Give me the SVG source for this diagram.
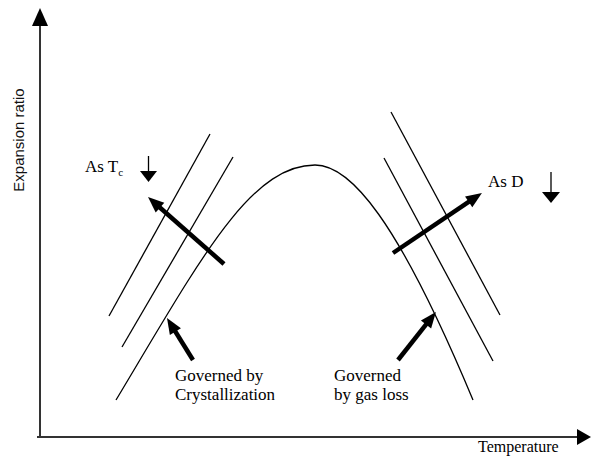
<svg xmlns="http://www.w3.org/2000/svg" width="592" height="457" viewBox="0 0 592 457">
<style>
.t{font-family:"Liberation Serif","Times New Roman",serif;font-size:17px;fill:#000}
.s{font-family:"Liberation Sans",Arial,sans-serif;font-size:15px;fill:#111}
.ln{fill:none;stroke:#000;stroke-width:1.3}
.ax{fill:none;stroke:#333;stroke-width:2}
.big{fill:none;stroke:#000;stroke-width:4.5}
</style>
<defs>
<marker id="ah" markerUnits="userSpaceOnUse" markerWidth="20" markerHeight="16" viewBox="0 -8 18 16" refX="4" refY="0" orient="auto">
<path d="M0,-6.5 L16,0 L0,6.5 z" fill="#000"/>
</marker>
</defs>
<g id="axes">
<line class="ax" x1="40" y1="437" x2="40" y2="24"/>
<polygon points="40,8 32,26 48,26" fill="#000"/>
<line class="ax" x1="37" y1="437" x2="580" y2="437"/>
<polygon points="591,437 577,429 577,445" fill="#000"/>
<text class="s" transform="translate(24,140) rotate(-90)" text-anchor="middle">Expansion ratio</text>
<text class="t" x="478" y="452" style="font-size:16px">Temperature</text>
</g>
<g id="curve">
<path class="ln" d="M116,400 C200,260 250,165 315,165 C350,165 397,218 473,400"/>
</g>
<g id="lines-left">
<line class="ln" x1="210" y1="134" x2="109" y2="316"/>
<line class="ln" x1="233" y1="157" x2="122" y2="347"/>
</g>
<g id="lines-right">
<line class="ln" x1="391" y1="112" x2="500" y2="315"/>
<line class="ln" x1="384" y1="158" x2="493" y2="361"/>
</g>
<g id="connectors">
<line class="big" x1="224" y1="264" x2="157" y2="205" marker-end="url(#ah)"/>
<line class="big" x1="393" y1="253" x2="472" y2="199.7" marker-end="url(#ah)"/>
<line class="big" x1="193" y1="360" x2="173.3" y2="328.2" marker-end="url(#ah)"/>
<line class="big" x1="398" y1="360" x2="428.5" y2="321.4" marker-end="url(#ah)"/>
</g>
<g id="label-tc">
<text class="t" x="85" y="172">As T<tspan dy="4" style="font-size:11px">c</tspan></text>
<line x1="148.5" y1="156" x2="148.5" y2="172" stroke="#000" stroke-width="1.3"/>
<polygon points="140,171 157,171 148.5,182" fill="#000"/>
</g>
<g id="label-d">
<text class="t" x="488" y="187">As D</text>
<line x1="551" y1="172" x2="551" y2="193" stroke="#000" stroke-width="1.3"/>
<polygon points="542,192 560,192 551,203" fill="#000"/>
</g>
<g id="label-cryst">
<text class="t" x="175" y="381">Governed by</text>
<text class="t" x="175" y="400">Crystallization</text>
</g>
<g id="label-gas">
<text class="t" x="334" y="381">Governed</text>
<text class="t" x="334" y="400">by gas loss</text>
</g>
</svg>
